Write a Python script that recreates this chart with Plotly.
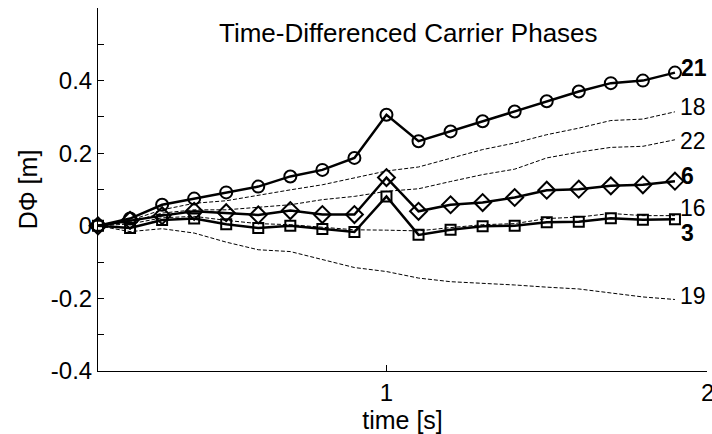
import plotly.graph_objects as go

# time axis [s]
time_s = [0.1, 0.2, 0.3, 0.4, 0.5, 0.6, 0.7, 0.8, 0.9, 1.0,
          1.1, 1.2, 1.3, 1.4, 1.5, 1.6, 1.7, 1.8, 1.9]

# satellites with markers (solid lines)
sat21 = [0, 0.02, 0.058, 0.075, 0.092, 0.108, 0.136, 0.154, 0.187, 0.306,
         0.233, 0.26, 0.288, 0.315, 0.343, 0.37, 0.393, 0.4, 0.422]
sat6 = [0, 0.015, 0.028, 0.04, 0.036, 0.03, 0.042, 0.031, 0.031, 0.133,
        0.04, 0.058, 0.064, 0.078, 0.098, 0.101, 0.11, 0.113, 0.123]
sat3 = [0, -0.006, 0.016, 0.02, 0.004, -0.006, 0, -0.009, -0.017, 0.081,
        -0.025, -0.011, -0.001, 0, 0.01, 0.011, 0.021, 0.017, 0.018]

# satellites without markers (dashed lines)
sat18 = [0, 0.015, 0.044, 0.062, 0.069, 0.085, 0.099, 0.113, 0.131, 0.151,
         0.162, 0.187, 0.21, 0.228, 0.251, 0.269, 0.29, 0.294, 0.314]
sat22 = [0, 0.01, 0.035, 0.044, 0.044, 0.052, 0.058, 0.072, 0.081, 0.095,
         0.102, 0.122, 0.141, 0.156, 0.187, 0.203, 0.216, 0.219, 0.237]
sat16 = [0, 0.005, 0.022, 0.026, 0.015, 0.006, 0.003, -0.005, -0.011, -0.012,
         -0.014, -0.005, 0.003, 0.006, 0.02, 0.024, 0.034, 0.028, 0.028]
sat19 = [0, -0.016, -0.008, -0.02, -0.045, -0.066, -0.071, -0.094, -0.115, -0.126,
         -0.144, -0.154, -0.158, -0.163, -0.169, -0.174, -0.185, -0.196, -0.203]

y_tickvals = [-0.4, -0.2, 0, 0.2, 0.4]
y_ticktext = ["-0.4", "-0.2", "0", "0.2", "0.4"]
y_minorvals = [-0.3, -0.1, 0.1, 0.3, 0.5]
x_tickvals = [1, 2]
x_ticktext = ["1", "2"]

FONT = "Liberation Sans, Arial, sans-serif"

marked = [
    ("21", sat21, "circle-open", 12),
    ("6", sat6, "diamond-open", 13),
    ("3", sat3, "square-open", 10),
]
dashed = [("18", sat18), ("22", sat22), ("16", sat16), ("19", sat19)]

# label pixel shifts relative to the series end point (style only)
label_shift = {"21": 5, "18": 5, "22": -1, "6": 5, "16": 8, "3": -14, "19": 3}
bold_labels = {"21", "6", "3"}

fig = go.Figure()
for name, ys in dashed:
    fig.add_trace(go.Scatter(x=time_s, y=ys, mode="lines", name=name,
                             line=dict(color="black", width=1, dash="4px,2px"),
                             cliponaxis=False))
for name, ys, sym, sz in marked:
    fig.add_trace(go.Scatter(x=time_s, y=ys, mode="lines+markers", name=name,
                             line=dict(color="black", width=2.5),
                             marker=dict(symbol=sym, size=sz, color="black",
                                         line=dict(width=2, color="black")),
                             cliponaxis=False))

annotations = []
for name, ys in dashed + [(m[0], m[1]) for m in marked]:
    txt = f"<b>{name}</b>" if name in bold_labels else name
    annotations.append(dict(x=time_s[-1], y=ys[-1], xref="x", yref="y", text=txt,
                            showarrow=False, xanchor="left", yanchor="middle",
                            xshift=4 if name in bold_labels else 3,
                            yshift=label_shift[name],
                            font=dict(family=FONT, size=23, color="black")))
annotations.append(dict(x=0.51, y=0.531, xref="x domain", yref="y",
                        text="Time-Differenced Carrier Phases",
                        showarrow=False, xanchor="center", yanchor="middle",
                        font=dict(family=FONT, size=26, color="black")))
# last x tick label, partially cut off at the page edge as in the original
annotations.append(dict(x=x_tickvals[-1], y=0, xref="x", yref="paper", text=x_ticktext[-1],
                        showarrow=False, xanchor="center", yanchor="top", yshift=-6,
                        font=dict(family=FONT, size=24, color="black")))

fig.update_layout(
    width=712, height=434,
    margin=dict(l=98, r=5, t=8, b=63),
    paper_bgcolor="white", plot_bgcolor="white",
    showlegend=False,
    font=dict(family=FONT, size=24, color="black"),
    annotations=annotations,
    xaxis=dict(range=[0.1, 2], tickvals=x_tickvals, ticktext=x_ticktext[:-1] + [""],
               ticks="inside", ticklen=6, tickcolor="black", tickwidth=1,
               showline=True, linecolor="black", linewidth=1, mirror=False,
               showgrid=False, zeroline=False,
               tickfont=dict(family=FONT, size=24),
               title=dict(text="time [s]", font=dict(family=FONT, size=25), standoff=7)),
    yaxis=dict(range=[-0.4, 0.6], tickvals=y_tickvals, ticktext=y_ticktext,
               ticks="inside", ticklen=6, tickcolor="black", tickwidth=1,
               minor=dict(tickmode="array", tickvals=y_minorvals, ticks="inside",
                          ticklen=6, tickcolor="black", tickwidth=1, showgrid=False),
               showline=True, linecolor="black", linewidth=1, mirror=False,
               showgrid=False, zeroline=False,
               tickfont=dict(family=FONT, size=24),
               title=dict(text="DΦ [m]", font=dict(family=FONT, size=25), standoff=6)),
)

fig.write_html("out.html")
